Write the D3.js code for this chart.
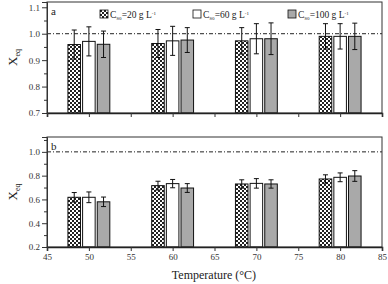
<!DOCTYPE html>
<html><head><meta charset="utf-8">
<script src="https://cdn.jsdelivr.net/npm/d3@7"></script>
<style>body{margin:0;background:#fff}svg{display:block}text{font-family:"Liberation Serif","Times New Roman",serif}</style>
</head><body><svg id="c" width="388" height="284"></svg>
<script>
const temps = [50, 60, 70, 80];
const seriesNames = ["20", "60", "100"];
const a20 = [0.959, 0.963, 0.973, 0.990];
const a60 = [0.971, 0.973, 0.981, 0.990];
const a100 = [0.960, 0.976, 0.981, 0.990];
const aErr20 = [0.055, 0.053, 0.050, 0.048];
const aErr60 = [0.055, 0.055, 0.057, 0.048];
const aErr100 = [0.050, 0.047, 0.060, 0.050];
const b20 = [0.618, 0.716, 0.730, 0.772];
const b60 = [0.618, 0.733, 0.735, 0.786];
const b100 = [0.580, 0.696, 0.730, 0.797];
const bErr20 = [0.040, 0.037, 0.035, 0.035];
const bErr60 = [0.045, 0.035, 0.040, 0.037];
const bErr100 = [0.040, 0.037, 0.035, 0.045];
const xTicks = [45, 50, 55, 60, 65, 70, 75, 80, 85];
const aTicks = [0.7, 0.8, 0.9, 1.0, 1.1];
const bTicks = [0.2, 0.4, 0.6, 0.8, 1.0];

const svg = d3.select("#c");
const defs = svg.append("defs");
const pat = defs.append("pattern").attr("id","chk").attr("width",4).attr("height",4).attr("patternUnits","userSpaceOnUse");
pat.append("rect").attr("width",4).attr("height",4).attr("fill","#fff");
pat.append("rect").attr("width",2).attr("height",2).attr("fill","#222");
pat.append("rect").attr("x",2).attr("y",2).attr("width",2).attr("height",2).attr("fill","#222");
const fills = ["url(#chk)", "#ffffff", "#a9a9a9"];

const x = d3.scaleLinear().domain([45, 85]).range([47, 382]);
const offsets = [-1.75, 0, 1.75];
const bw = 1.5;

function panel(y, vals, errs, yt, minorStep, label, showXLabels) {
  const g = svg.append("g");
  const [y0, y1] = y.range();
  vals.forEach((arr, si) => {
    g.selectAll(null).data(temps).enter().append("rect")
      .attr("x", (t) => x(t + offsets[si] - bw/2))
      .attr("width", (t) => x(t + offsets[si] + bw/2) - x(t + offsets[si] - bw/2))
      .attr("y", (t, i) => y(arr[i]))
      .attr("height", (t, i) => y0 - y(arr[i]))
      .attr("fill", fills[si]).attr("stroke", "#111").attr("stroke-width", 1);
  });
  vals.forEach((arr, si) => {
    temps.forEach((t, i) => {
      const cx = x(t + offsets[si]);
      const top = y(arr[i] + errs[si][i]), bot = y(arr[i] - errs[si][i]);
      g.append("line").attr("x1",cx).attr("x2",cx).attr("y1",top).attr("y2",bot).attr("stroke","#111");
      [top, bot].forEach(yy => g.append("line").attr("x1",cx-2.5).attr("x2",cx+2.5).attr("y1",yy).attr("y2",yy).attr("stroke","#111"));
    });
  });
  g.append("line").attr("x1", x(45)).attr("x2", x(85)).attr("y1", y(1.0)).attr("y2", y(1.0))
    .attr("stroke", "#222").attr("stroke-width", 1).attr("stroke-dasharray", "4,2,1,2");
  g.append("rect").attr("x", x(45)).attr("y", y1).attr("width", x(85)-x(45)).attr("height", y0-y1)
    .attr("fill","none").attr("stroke","#333").attr("stroke-width",1);
  const dom = y.domain();
  const minor = d3.range(dom[0], dom[1]+1e-9, minorStep).filter(v => !yt.some(t => Math.abs(t-v) < 1e-6));
  g.append("g").attr("transform", `translate(${x(45)},0)`)
    .call(d3.axisLeft(y).tickValues(minor).tickSize(3).tickFormat(""))
    .call(s => { s.select(".domain").remove(); s.selectAll("line").attr("stroke","#333"); });
  g.append("g").attr("transform", `translate(${x(45)},0)`)
    .call(d3.axisLeft(y).tickValues(yt).tickSize(5).tickPadding(2).tickFormat(d3.format(".1f")))
    .call(s => { s.select(".domain").attr("stroke","#333"); s.selectAll("line").attr("stroke","#333");
      s.selectAll("text").attr("font-size", 9).attr("fill","#333").attr("font-family","Liberation Serif"); });
  g.append("g").attr("transform", `translate(0,${y0})`)
    .call(d3.axisBottom(x).tickValues(xTicks).tickSize(4).tickPadding(3).tickFormat(showXLabels ? d3.format("d") : ""))
    .call(s => { s.select(".domain").attr("stroke","#222").attr("stroke-width",1.6); s.selectAll("line").attr("stroke","#333");
      s.selectAll("text").attr("font-size", 9).attr("fill","#333").attr("font-family","Liberation Serif"); });
  g.append("text").attr("x", 51).attr("y", y1 + 13).attr("font-size", 11).attr("fill","#222").text(label);
  const ty = (y0 + y1) / 2;
  const yt2 = g.append("text").attr("transform", `translate(17,${ty}) rotate(-90)`).attr("text-anchor","middle")
    .attr("font-size", 13).attr("fill","#222");
  yt2.append("tspan").text("X");
  yt2.append("tspan").attr("font-size", 8).attr("dy", 3).text("eq");
}

const ya = d3.scaleLinear().domain([0.7, 1.12]).range([113, 2]);
const yb = d3.scaleLinear().domain([0.2, 1.125]).range([247, 137]);
panel(ya, [a20, a60, a100], [aErr20, aErr60, aErr100], aTicks, 0.05, "a", false);
panel(yb, [b20, b60, b100], [bErr20, bErr60, bErr100], bTicks, 0.1, "b", true);

const legX = [100, 193, 288];
seriesNames.forEach((n, i) => {
  const lg = svg.append("g").attr("transform", `translate(${legX[i]},10)`);
  lg.append("rect").attr("width", 8).attr("height", 8).attr("fill", fills[i]).attr("stroke","#111").attr("stroke-width",0.8);
  const t = lg.append("text").attr("x", 10).attr("y", 8).attr("font-size", 9.5).attr("fill","#222");
  t.append("tspan").text("C");
  t.append("tspan").attr("font-size", 5).attr("dy", 2).text("S0");
  t.append("tspan").attr("dy", -2).text("=" + n + " g L");
  t.append("tspan").attr("font-size", 5).attr("dy", -3).text("-1");
});

svg.append("text").attr("x", 214).attr("y", 279).attr("text-anchor","middle").attr("font-size", 12).attr("fill","#222")
  .text("Temperature (°C)");
</script></body></html>
